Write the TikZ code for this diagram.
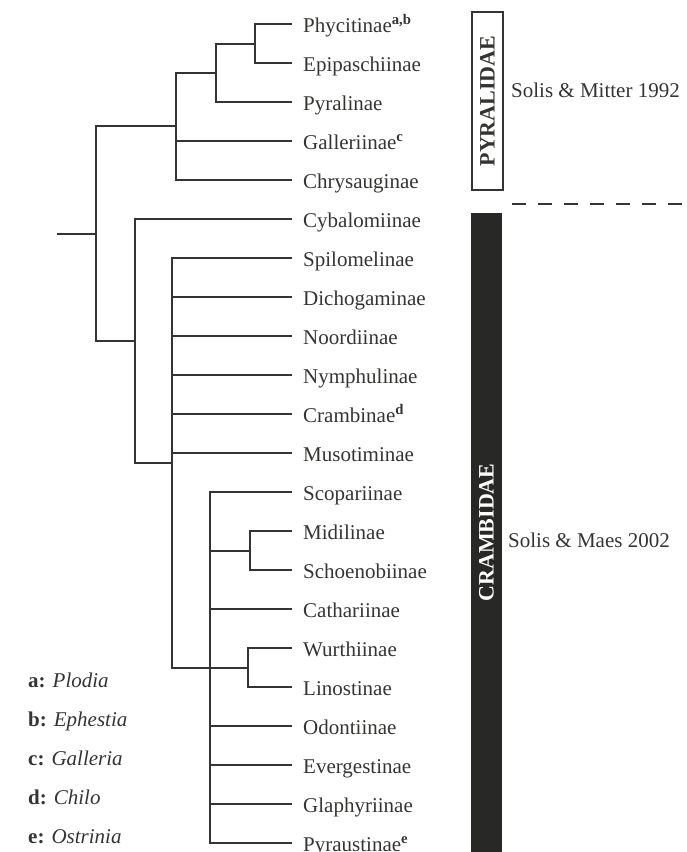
\documentclass[tikz,border=0pt]{standalone}
\usepackage{fontspec}
\setmainfont{Liberation Serif}
\usepackage{tikz}
\usetikzlibrary{positioning}

\definecolor{ink}{RGB}{52,52,50}
\definecolor{barfill}{RGB}{40,40,38}

\tikzset{
	leaf/.style={anchor=west, inner xsep=11pt, inner ysep=0pt, text height=17pt, text depth=0pt, text=ink, font=\fontsize{21}{25}\selectfont},
	legend/.style={leaf, inner xsep=0pt},
	branch/.style={draw=ink, line width=1.6pt},
	famname/.style={inner sep=0pt, rotate=90, minimum height=31pt, text=ink, font=\fontsize{22}{26}\selectfont\bfseries},
	divider/.style={draw=ink, line width=1.8pt, dash pattern=on 14pt off 12pt}
}

\begin{document}
\begin{tikzpicture}[x=1pt,y=-1pt,node distance=39pt]
	\useasboundingbox (0,0) rectangle (686,852);

	% subfamilies
	\node[leaf] (phy) at (292,24) {Phycitinae\textsuperscript{\textbf{a,b}}};
	\node[leaf,below=of phy.west,anchor=west] (epi) {Epipaschiinae};
	\node[leaf,below=of epi.west,anchor=west] (pyr) {Pyralinae};
	\node[leaf,below=of pyr.west,anchor=west] (gal) {Galleriinae\textsuperscript{\textbf{c}}};
	\node[leaf,below=of gal.west,anchor=west] (chr) {Chrysauginae};
	\node[leaf,below=of chr.west,anchor=west] (cyb) {Cybalomiinae};
	\node[leaf,below=of cyb.west,anchor=west] (spi) {Spilomelinae};
	\node[leaf,below=of spi.west,anchor=west] (dic) {Dichogaminae};
	\node[leaf,below=of dic.west,anchor=west] (noo) {Noordiinae};
	\node[leaf,below=of noo.west,anchor=west] (nym) {Nymphulinae};
	\node[leaf,below=of nym.west,anchor=west] (cra) {Crambinae\textsuperscript{\textbf{d}}};
	\node[leaf,below=of cra.west,anchor=west] (mus) {Musotiminae};
	\node[leaf,below=of mus.west,anchor=west] (sco) {Scopariinae};
	\node[leaf,below=of sco.west,anchor=west] (mid) {Midilinae};
	\node[leaf,below=of mid.west,anchor=west] (sch) {Schoenobiinae};
	\node[leaf,below=of sch.west,anchor=west] (cat) {Cathariinae};
	\node[leaf,below=of cat.west,anchor=west] (wur) {Wurthiinae};
	\node[leaf,below=of wur.west,anchor=west] (lin) {Linostinae};
	\node[leaf,below=of lin.west,anchor=west] (odo) {Odontiinae};
	\node[leaf,below=of odo.west,anchor=west] (eve) {Evergestinae};
	\node[leaf,below=of eve.west,anchor=west] (gla) {Glaphyriinae};
	\node[leaf,below=of gla.west,anchor=west] (pyu) {Pyraustinae\textsuperscript{\textbf{e}}};

	% internal nodes
	\coordinate (k1) at (255,44);
	\coordinate (k2) at (216,73);
	\coordinate (k3) at (176,126);
	\coordinate (m1) at (250,551);
	\coordinate (w1) at (248,668);
	\coordinate (c1) at (210,668);
	\coordinate (s1) at (172,463);
	\coordinate (cr) at (135,341);
	\coordinate (root) at (96,234);
	\coordinate (stub) at (57,234);

	\draw[branch]
	(phy.west) -| (k1) |- (epi.west)
	(k1) -| (k2) |- (pyr.west)
	(k2) -| (k3) |- (chr.west)
	(k3 |- gal.west) -- (gal.west)

	(mid.west) -| (m1) |- (sch.west)
	(wur.west) -| (w1) |- (lin.west)
	(sco.west) -| (c1) |- (pyu.west)
	(c1 |- m1) -- (m1)
	(c1 |- cat.west) -- (cat.west)
	(c1) -- (w1)
	(c1 |- odo.west) -- (odo.west)
	(c1 |- eve.west) -- (eve.west)
	(c1 |- gla.west) -- (gla.west)

	(spi.west) -| (s1) |- (c1)
	(s1 |- dic.west) -- (dic.west)
	(s1 |- noo.west) -- (noo.west)
	(s1 |- nym.west) -- (nym.west)
	(s1 |- cra.west) -- (cra.west)
	(s1 |- mus.west) -- (mus.west)

	(cyb.west) -| (cr) |- (s1)
	(k3) -| (root) |- (cr)
	(root) -- (stub);

	% families
	\node[famname, draw=ink, line width=1.8pt, minimum width=178pt] (pyralidae) at (487.5,101) {PYRALIDAE};
	\node[famname, fill=barfill, text=white, minimum width=639pt] (crambidae) at (486.5,532.5) {CRAMBIDAE};

	\coordinate (dashL) at (512,204);
	\coordinate (dashR) at (686,204);
	\draw[divider] (dashL) -- (dashR);

	\node[legend] (mitter) at (511,89) {Solis \& Mitter 1992};
	\node[legend] (maes) at (508,538.5) {Solis \& Maes 2002};

	% genera
	\node[legend] (keya) at (28,679) {\textbf{a:} \textit{Plodia}};
	\node[legend,below=of keya.west,anchor=west] (keyb) {\textbf{b:} \textit{Ephestia}};
	\node[legend,below=of keyb.west,anchor=west] (keyc) {\textbf{c:} \textit{Galleria}};
	\node[legend,below=of keyc.west,anchor=west] (keyd) {\textbf{d:} \textit{Chilo}};
	\node[legend,below=of keyd.west,anchor=west] (keye) {\textbf{e:} \textit{Ostrinia}};

\end{tikzpicture}
\end{document}
